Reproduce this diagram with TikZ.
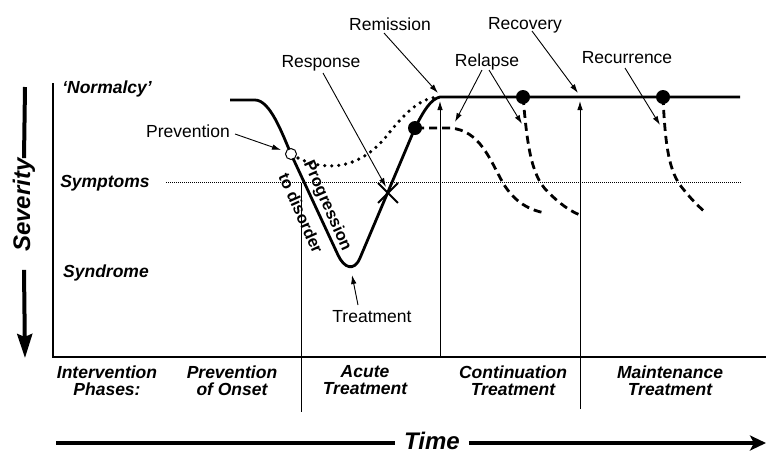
\documentclass[tikz,border=0pt]{standalone}
\usepackage{fontspec}
\setmainfont{Liberation Sans}
\usetikzlibrary{arrows.meta,shapes.misc}
\begin{document}
\begin{tikzpicture}[x=1pt,y=-1pt,
  lbl/.style={font=\fontsize{17.5}{17}\selectfont, inner sep=0pt, anchor=base},
  bi/.style={font=\fontsize{17.5}{17}\selectfont\bfseries\itshape, inner sep=0pt},
  phase/.style={font=\fontsize{17.5}{17}\selectfont\bfseries\itshape, inner sep=0pt, align=center},
  rot/.style={font=\fontsize{16.5}{17}\selectfont\bfseries, inner sep=0pt, rotate=-66},
  big/.style={font=\fontsize{24}{26}\selectfont\bfseries\itshape, inner sep=0pt},
  axis/.style={line width=1.2pt},
  sep/.style={line width=1pt},
  sym/.style={line width=1pt, dash pattern=on 1pt off 1pt},
  ptr/.style={line width=0.9pt, -{Latex[length=9pt,width=5.5pt]}},
  main/.style={line width=2.8pt, line join=round},
  dsh/.style={line width=2.8pt, dash pattern=on 8pt off 5pt},
  dtd/.style={line width=3.6pt, dash pattern=on 0pt off 7pt, line cap=round},
  dot/.style={circle, fill=black, minimum size=14pt, inner sep=0pt},
  odot/.style={circle, draw=black, fill=white, line width=1pt, minimum size=11pt, inner sep=0pt},
  thick arrow/.style={line width=4pt},
]
\useasboundingbox (0,0) rectangle (766,451);

% axes
\coordinate (ytop) at (53,83);
\coordinate (orig) at (53,357);
\coordinate (xend) at (766,357);
\draw[axis] (ytop) -- (orig) -- (xend);

% symptoms level
\coordinate (s1) at (166,182);
\coordinate (s2) at (742,182);
\draw[sym] (s1) -- (s2);

% phase separators
\coordinate (v1t) at (301,183);
\coordinate (v1b) at (301,412);
\draw[sep] (v1t) -- (v1b);
\coordinate (v2b) at (440,357);
\coordinate (v2t) at (440,101);
\draw[ptr] (v2b) -- (v2t);
\coordinate (v3b) at (580,409);
\coordinate (v3t) at (580,101);
\draw[ptr] (v3b) -- (v3t);

% dotted prevented course
\draw[dtd] (298,158) .. controls (322,170) and (356,172) .. (385,138)
  .. controls (404,114) and (420,97) .. (440,97);

% main course
\draw[main] (230,100) -- (255,100) .. controls (270,100) and (282,133) .. (291,154)
  -- (338,255) .. controls (344,268) and (354,272) .. (360,258)
  -- (415,128) .. controls (424,110) and (431,99) .. (440,97) -- (740,97);

% relapse / recurrence courses
\draw[dsh] (416,128) -- (450,128) .. controls (480,130) and (490,160) .. (503,183)
  .. controls (515,203) and (530,210) .. (545,213);
\draw[dsh] (523,97) .. controls (527,140) and (530,175) .. (548,192)
  .. controls (560,204) and (570,211) .. (580,215);
\draw[dsh] (663,97) .. controls (665,140) and (668,168) .. (680,185)
  .. controls (690,198) and (698,206) .. (705,212);

% markers
\node[odot] (pc) at (291,154) {};
\node[dot] (d1) at (415,128) {};
\node[dot] (d2) at (523,97) {};
\node[dot] (d3) at (663,97) {};
\node[cross out, draw, line width=1.8pt, minimum size=18pt, inner sep=0pt] (xm) at (388,193) {};

% level labels
\node[bi, anchor=base] (norm) at (107,93) {‘Normalcy’};
\node[bi, anchor=base] (symp) at (105,187) {Symptoms};
\node[bi, anchor=base] (synd) at (106,277) {Syndrome};

% event labels
\node[lbl] (prev) at (188,137) {Prevention};
\node[lbl] (resp) at (321,67) {Response};
\node[lbl] (remi) at (390,30) {Remission};
\node[lbl] (reco) at (525,29) {Recovery};
\node[lbl] (rela) at (487,66) {Relapse};
\node[lbl] (recu) at (627,63) {Recurrence};
\node[lbl] (trea) at (372,322) {Treatment};

\coordinate (prevT) at (281,150);
\coordinate (respT) at (386,187);
\coordinate (remiT) at (438,93);
\coordinate (recoT) at (578,93);
\coordinate (relaT1) at (455,122);
\coordinate (relaT2) at (522,124);
\coordinate (recuT) at (660,125);
\coordinate (treaT) at (352,275);

\draw[ptr] ([xshift=5pt,yshift=3pt]prev.base east) -- (prevT);
\draw[ptr] ([xshift=2pt,yshift=-6pt]resp.base) -- (respT);
\draw[ptr] ([xshift=-6pt,yshift=-3pt]remi.base) -- (remiT);
\draw[ptr] ([xshift=7pt,yshift=-2pt]reco.base) -- (recoT);
\draw[ptr] ([xshift=-5pt,yshift=-4pt]rela.base) -- (relaT1);
\draw[ptr] ([xshift=2pt,yshift=-4pt]rela.base) -- (relaT2);
\draw[ptr] ([xshift=-2pt,yshift=-5pt]recu.base) -- (recuT);
\draw[ptr] ([xshift=-14pt,yshift=17pt]trea.base) -- (treaT);

% rotated labels along progression
\node[rot] (prog) at (327,206) {Progression};
\node[rot] (todis) at (301,213) {to disorder};

% phases
\node[phase] (ph0) at (107,380.5) {Intervention\\Phases:};
\node[phase] (ph1) at (232,380.5) {Prevention\\of Onset};
\node[phase] (ph2) at (365,380.5) {Acute\\Treatment};
\node[phase] (ph3) at (513,380.5) {Continuation\\Treatment};
\node[phase] (ph4) at (670,380.5) {Maintenance\\Treatment};

% Severity axis
\node[big, rotate=90] (sev) at (24,205) {Severity};
\coordinate (sevtop) at (25,87);
\coordinate (sevtip) at (25,358);
\draw[thick arrow] (sevtop) -- (sev.east);
\draw[thick arrow, -{Stealth[length=24pt,width=15pt,inset=3pt]}] ([yshift=-18pt]sev.west) -- (sevtip);

% Time axis
\node[big, anchor=base] (time) at (432,449.5) {Time};
\coordinate (tstart) at (56,443);
\coordinate (tend) at (766,443);
\draw[thick arrow] (tstart) -- ([xshift=-9pt]time.west |- tstart);
\draw[thick arrow, -{Stealth[length=16pt,width=15pt,inset=4pt]}] ([xshift=9pt]time.east |- tend) -- (tend);
\end{tikzpicture}
\end{document}
